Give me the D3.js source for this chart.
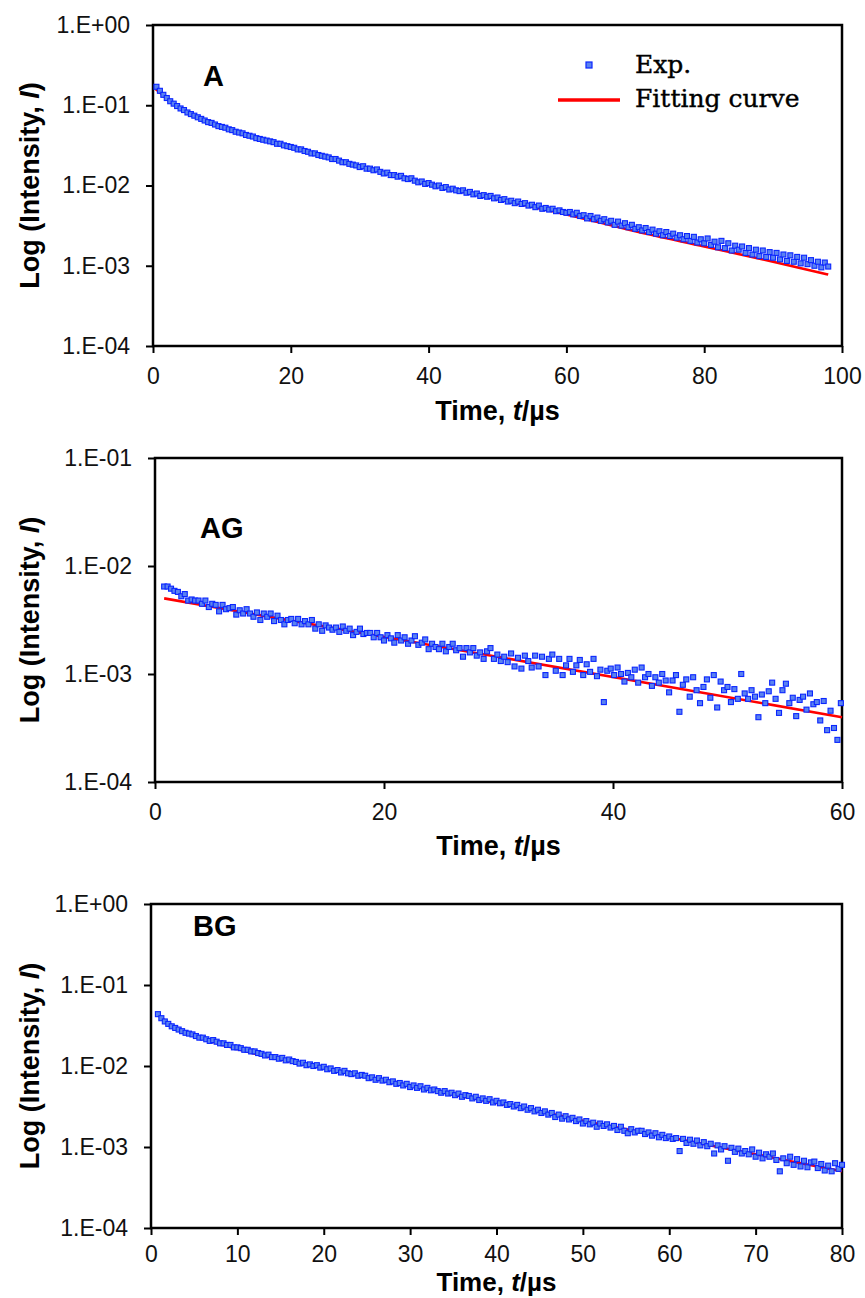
<!DOCTYPE html>
<html lang="en">
<head>
<meta charset="UTF-8">
<title>Luminescence decay curves</title>
<script src="https://d3js.org/d3.v7.min.js"></script>
<style>
  body { margin: 0; background: #fff; }
  svg { display: block; }
  .tick text { font-family: "Liberation Sans", Arial, sans-serif; font-size: 23px; fill: #111; }
  .tick line { stroke: #000; stroke-width: 2px; }
  .axis-title { font-family: "Liberation Sans", Arial, sans-serif; font-size: 27px; font-weight: bold; fill: #000; }
  .panel-label { font-family: "Liberation Sans", Arial, sans-serif; font-size: 29px; font-weight: bold; fill: #000; }
  .legend text { font-family: "DejaVu Serif", serif; font-size: 25px; fill: #000; stroke: #000; stroke-width: 0.4px; }
</style>
</head>
<body>
<svg id="chart" width="865" height="1298"></svg>
<script>
// sampling grid of each decay (µs)
const startA = 0.5, stepA = 0.5;
const startAG = 0.8, stepAG = 0.3;
const startBG = 0.8, stepBG = 0.4;

const logA = [
  -0.77,-0.82,-0.87,-0.91,-0.95,-0.98,-1.01,-1.04,-1.06,-1.09,
  -1.11,-1.13,-1.15,-1.17,-1.19,-1.21,-1.22,-1.24,-1.26,-1.27,
  -1.28,-1.30,-1.31,-1.33,-1.34,-1.35,-1.37,-1.38,-1.39,-1.41,
  -1.42,-1.43,-1.44,-1.45,-1.46,-1.48,-1.48,-1.50,-1.51,-1.52,
  -1.53,-1.55,-1.55,-1.57,-1.58,-1.60,-1.60,-1.62,-1.63,-1.64,
  -1.65,-1.67,-1.67,-1.69,-1.71,-1.71,-1.73,-1.74,-1.75,-1.77,
  -1.76,-1.79,-1.79,-1.81,-1.80,-1.83,-1.85,-1.84,-1.87,-1.87,
  -1.89,-1.88,-1.91,-1.92,-1.91,-1.94,-1.96,-1.95,-1.98,-1.97,
  -1.99,-2.01,-2.00,-2.03,-2.02,-2.05,-2.04,-2.06,-2.07,-2.06,
  -2.09,-2.08,-2.11,-2.10,-2.13,-2.12,-2.14,-2.13,-2.16,-2.15,
  -2.18,-2.17,-2.20,-2.19,-2.22,-2.20,-2.23,-2.22,-2.25,-2.24,
  -2.27,-2.25,-2.29,-2.28,-2.30,-2.29,-2.32,-2.31,-2.33,-2.34,
  -2.33,-2.36,-2.34,-2.38,-2.37,-2.41,-2.38,-2.42,-2.40,-2.44,
  -2.42,-2.46,-2.44,-2.49,-2.45,-2.50,-2.47,-2.52,-2.49,-2.54,
  -2.52,-2.56,-2.53,-2.58,-2.55,-2.60,-2.57,-2.62,-2.58,-2.63,
  -2.60,-2.65,-2.62,-2.67,-2.63,-2.69,-2.64,-2.71,-2.67,-2.72,
  -2.66,-2.74,-2.70,-2.77,-2.69,-2.78,-2.72,-2.81,-2.75,-2.80,
  -2.76,-2.84,-2.78,-2.86,-2.80,-2.88,-2.81,-2.89,-2.83,-2.90,
  -2.84,-2.92,-2.86,-2.94,-2.87,-2.95,-2.89,-2.97,-2.90,-2.98,
  -2.93,-3.00,-2.95,-3.02,-2.96,-3.01
];
const logAG = [
  -2.19,-2.19,-2.21,-2.23,-2.24,-2.28,-2.26,-2.32,-2.31,-2.32,
  -2.32,-2.35,-2.32,-2.38,-2.35,-2.36,-2.42,-2.36,-2.40,-2.39,
  -2.38,-2.45,-2.41,-2.44,-2.40,-2.44,-2.47,-2.43,-2.50,-2.44,
  -2.47,-2.44,-2.51,-2.46,-2.50,-2.54,-2.50,-2.49,-2.53,-2.49,
  -2.54,-2.51,-2.54,-2.50,-2.58,-2.54,-2.60,-2.55,-2.57,-2.59,
  -2.57,-2.61,-2.56,-2.60,-2.58,-2.64,-2.61,-2.58,-2.63,-2.62,
  -2.62,-2.66,-2.62,-2.66,-2.69,-2.64,-2.67,-2.71,-2.64,-2.69,
  -2.66,-2.72,-2.69,-2.65,-2.73,-2.71,-2.68,-2.77,-2.72,-2.75,
  -2.77,-2.72,-2.79,-2.75,-2.72,-2.78,-2.76,-2.84,-2.76,-2.80,
  -2.76,-2.83,-2.80,-2.86,-2.79,-2.76,-2.86,-2.82,-2.88,-2.84,
  -2.89,-2.81,-2.93,-2.85,-2.95,-2.83,-2.88,-2.94,-2.83,-2.93,
  -2.84,-3.01,-2.86,-2.82,-2.97,-2.86,-3.01,-2.92,-2.86,-2.98,
  -2.92,-2.87,-3.01,-2.91,-2.98,-2.86,-3.02,-2.96,-3.26,-2.97,
  -2.95,-3.01,-2.94,-3.00,-3.07,-2.99,-3.03,-2.96,-3.08,-2.94,
  -3.03,-3.00,-3.11,-3.03,-3.08,-3.00,-3.06,-3.17,-3.06,-3.01,
  -3.35,-3.10,-3.05,-3.21,-3.03,-3.15,-3.27,-3.12,-3.05,-3.22,
  -3.01,-3.31,-3.07,-3.15,-3.12,-3.26,-3.14,-3.23,-3.00,-3.18,
  -3.23,-3.15,-3.21,-3.40,-3.19,-3.27,-3.16,-3.08,-3.23,-3.36,
  -3.15,-3.09,-3.27,-3.22,-3.39,-3.24,-3.21,-3.33,-3.18,-3.28,
  -3.26,-3.43,-3.25,-3.52,-3.34,-3.50,-3.61,-3.27
];
const logBG = [
  -1.36,-1.41,-1.45,-1.48,-1.51,-1.53,-1.55,-1.57,-1.59,-1.60,
  -1.61,-1.63,-1.65,-1.65,-1.67,-1.69,-1.68,-1.70,-1.72,-1.72,
  -1.74,-1.74,-1.77,-1.77,-1.78,-1.80,-1.80,-1.82,-1.82,-1.84,
  -1.85,-1.87,-1.86,-1.89,-1.89,-1.91,-1.90,-1.93,-1.92,-1.94,
  -1.95,-1.97,-1.96,-1.99,-1.98,-2.00,-1.99,-2.02,-2.01,-2.04,
  -2.03,-2.06,-2.05,-2.08,-2.06,-2.09,-2.10,-2.09,-2.12,-2.11,
  -2.12,-2.15,-2.14,-2.17,-2.15,-2.18,-2.17,-2.20,-2.19,-2.22,
  -2.21,-2.24,-2.22,-2.26,-2.24,-2.27,-2.25,-2.29,-2.27,-2.30,
  -2.29,-2.31,-2.33,-2.31,-2.34,-2.33,-2.36,-2.34,-2.38,-2.36,
  -2.37,-2.40,-2.38,-2.42,-2.40,-2.43,-2.41,-2.45,-2.43,-2.46,
  -2.45,-2.48,-2.47,-2.50,-2.48,-2.52,-2.50,-2.54,-2.52,-2.56,
  -2.54,-2.58,-2.56,-2.60,-2.58,-2.63,-2.60,-2.65,-2.62,-2.66,
  -2.64,-2.68,-2.66,-2.71,-2.68,-2.72,-2.70,-2.75,-2.71,-2.74,
  -2.72,-2.76,-2.74,-2.79,-2.75,-2.80,-2.83,-2.78,-2.82,-2.80,
  -2.80,-2.84,-2.82,-2.86,-2.83,-2.88,-2.85,-2.89,-2.87,-2.90,
  -2.89,-3.05,-2.90,-2.95,-2.91,-2.96,-2.92,-2.98,-2.94,-2.99,
  -2.96,-3.08,-2.98,-3.03,-2.99,-3.17,-3.01,-3.06,-3.02,-3.08,
  -3.05,-3.09,-3.03,-3.12,-3.07,-3.14,-3.09,-3.12,-3.08,-3.16,
  -3.30,-3.14,-3.20,-3.12,-3.22,-3.15,-3.24,-3.17,-3.25,-3.19,
  -3.18,-3.26,-3.21,-3.29,-3.23,-3.30,-3.20,-3.27,-3.22
];

// fitting curves (time in µs, log10 intensity)
const fitTimeA = [0.4, 1, 2, 3, 5, 8, 12, 17, 25, 32, 40, 50, 60, 70, 80, 90, 98];
const fitLogA = [-0.80, -0.84, -0.92, -0.99, -1.09, -1.21, -1.33, -1.45, -1.64, -1.80, -1.98, -2.17, -2.36, -2.57, -2.76, -2.95, -3.11];
const fitTimeAG = [0.8, 60];
const fitLogAG = [-2.30, -3.40];
const fitTimeBG = [0.8, 2, 4, 6, 10, 15, 20, 27, 35, 45, 52, 60, 70, 80];
const fitLogBG = [-1.37, -1.47, -1.58, -1.66, -1.79, -1.92, -2.02, -2.18, -2.35, -2.56, -2.72, -2.88, -3.09, -3.30];

// axis ticks
const xTicksA = [0, 20, 40, 60, 80, 100];
const xTicksAG = [0, 20, 40, 60];
const xTicksBG = [0, 10, 20, 30, 40, 50, 60, 70, 80];
const yTicksA = [1, 1e-1, 1e-2, 1e-3, 1e-4];
const yTicksAG = [1e-1, 1e-2, 1e-3, 1e-4];
const yTicksBG = [1, 1e-1, 1e-2, 1e-3, 1e-4];

const legendItems = ["Exp.", "Fitting curve"];

const svg = d3.select("#chart");

const sciFormat = d => {
  const e = Math.round(Math.log10(d));
  return "1.E" + (e >= 0 ? "+" : "-") + String(Math.abs(e)).padStart(2, "0");
};

const panels = [
  { name: "A", start: startA, step: stepA, values: logA, fitT: fitTimeA, fitV: fitLogA,
    xTicks: xTicksA, yTicks: yTicksA, left: 153, right: 842, top: 25, bottom: 346,
    labelX: 203, labelY: 86, titleY: 420, titleSize: 27, xPad: 15, legend: true },
  { name: "AG", start: startAG, step: stepAG, values: logAG, fitT: fitTimeAG, fitV: fitLogAG,
    xTicks: xTicksAG, yTicks: yTicksAG, left: 155, right: 842, top: 458, bottom: 782,
    labelX: 200, labelY: 538, titleY: 855, titleSize: 27, xPad: 15, legend: false },
  { name: "BG", start: startBG, step: stepBG, values: logBG, fitT: fitTimeBG, fitV: fitLogBG,
    xTicks: xTicksBG, yTicks: yTicksBG, left: 151, right: 842, top: 904, bottom: 1228,
    labelX: 193, labelY: 936, titleY: 1291, titleSize: 26, xPad: 11, legend: false }
];

function drawPanel(p) {
  const g = svg.append("g");
  const x = d3.scaleLinear()
    .domain([p.xTicks[0], p.xTicks[p.xTicks.length - 1]])
    .range([p.left, p.right]);
  const y = d3.scaleLog()
    .domain([d3.min(p.yTicks), d3.max(p.yTicks)])
    .range([p.bottom, p.top]);

  const points = p.values.map((v, i) => ({ t: p.start + i * p.step, I: Math.pow(10, v) }));
  const fit = p.fitT.map((t, i) => ({ t: t, I: Math.pow(10, p.fitV[i]) }));

  // axes
  g.append("g")
    .attr("transform", `translate(0,${p.bottom})`)
    .call(d3.axisBottom(x).tickValues(p.xTicks).tickSize(7).tickPadding(p.xPad).tickFormat(d3.format("d")))
    .call(a => a.select(".domain").remove());
  g.append("g")
    .attr("transform", `translate(${p.left},0)`)
    .call(d3.axisLeft(y).tickValues(p.yTicks).tickSize(7).tickPadding(16).tickFormat(sciFormat))
    .call(a => a.select(".domain").remove());

  // frame
  g.append("rect")
    .attr("x", p.left).attr("y", p.top)
    .attr("width", p.right - p.left).attr("height", p.bottom - p.top)
    .attr("fill", "none").attr("stroke", "#000").attr("stroke-width", 2.5);

  // fitting curve
  g.append("path")
    .datum(fit)
    .attr("fill", "none")
    .attr("stroke", "#ff0000")
    .attr("stroke-width", 2.6)
    .attr("d", d3.line().x(d => x(d.t)).y(d => y(d.I)).curve(d3.curveMonotoneX));

  // experimental points
  g.append("g").selectAll("rect")
    .data(points)
    .join("rect")
    .attr("x", d => x(d.t) - 2.5)
    .attr("y", d => y(d.I) - 2.5)
    .attr("width", 5).attr("height", 5)
    .attr("fill", "#5a82f0")
    .attr("stroke", "#0a25ff")
    .attr("stroke-width", 1.1);

  // titles
  g.append("text")
    .attr("class", "axis-title")
    .attr("text-anchor", "middle")
    .attr("x", (p.left + p.right) / 2)
    .attr("y", p.titleY)
    .style("font-size", p.titleSize + "px")
    .call(t => {
      t.append("tspan").text("Time, ");
      t.append("tspan").attr("font-style", "italic").text("t");
      t.append("tspan").text("/µs");
    });
  g.append("text")
    .attr("class", "axis-title")
    .attr("text-anchor", "middle")
    .attr("transform", `translate(39,${(p.top + p.bottom) / 2}) rotate(-90)`)
    .call(t => {
      t.append("tspan").text("Log (Intensity, ");
      t.append("tspan").attr("font-style", "italic").text("I");
      t.append("tspan").text(")");
    });

  g.append("text")
    .attr("class", "panel-label")
    .attr("x", p.labelX).attr("y", p.labelY)
    .text(p.name);

  if (p.legend) {
    const lg = g.append("g").attr("class", "legend");
    lg.append("rect")
      .attr("x", 586).attr("y", 62).attr("width", 6).attr("height", 6)
      .attr("fill", "#5a82f0").attr("stroke", "#0a25ff").attr("stroke-width", 1.2);
    lg.append("line")
      .attr("x1", 558).attr("x2", 620).attr("y1", 100).attr("y2", 100)
      .attr("stroke", "#ff0000").attr("stroke-width", 3.5);
    lg.selectAll("text")
      .data(legendItems)
      .join("text")
      .attr("x", 635)
      .attr("y", (d, i) => 73 + i * 34)
      .text(d => d);
  }
}

panels.forEach(drawPanel);
</script>
</body>
</html>
